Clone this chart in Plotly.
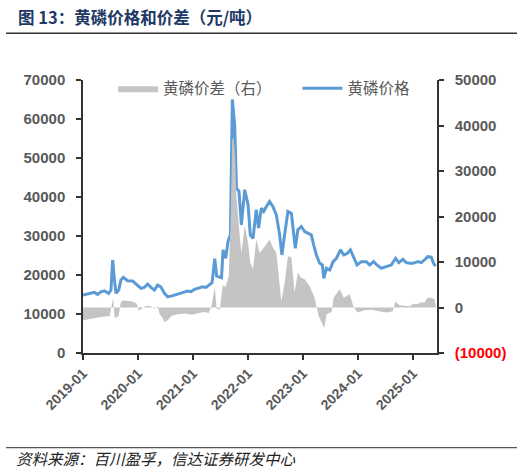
import plotly.graph_objects as go

# ---------------- data ----------------
price_dates = [
    "2019-01-01", "2019-02-12", "2019-03-17", "2019-04-08", "2019-04-30", "2019-05-23",
    "2019-06-20", "2019-07-06", "2019-07-17", "2019-07-28", "2019-08-08", "2019-08-26",
    "2019-09-10", "2019-09-26", "2019-10-24", "2019-11-27", "2019-12-30", "2020-01-21",
    "2020-02-12", "2020-03-05", "2020-03-27", "2020-04-19", "2020-05-11", "2020-06-02",
    "2020-06-25", "2020-07-17", "2020-08-19", "2020-09-21", "2020-10-24", "2020-11-26",
    "2020-12-18", "2021-01-10", "2021-02-01", "2021-03-06", "2021-03-28", "2021-04-20",
    "2021-05-07", "2021-05-25", "2021-06-07", "2021-07-09", "2021-07-19", "2021-08-06",
    "2021-08-21", "2021-09-06", "2021-09-19", "2021-10-04", "2021-10-16", "2021-11-02",
    "2021-11-18", "2021-12-10", "2022-01-01", "2022-01-16", "2022-02-03", "2022-02-25",
    "2022-03-12", "2022-03-30", "2022-04-15", "2022-05-03", "2022-05-24", "2022-06-15",
    "2022-07-08", "2022-07-30", "2022-08-14", "2022-09-01", "2022-09-23", "2022-10-16",
    "2022-10-31", "2022-11-11", "2022-11-28", "2022-12-21", "2023-01-12", "2023-02-03",
    "2023-02-25", "2023-03-13", "2023-03-31", "2023-04-22", "2023-05-10", "2023-05-19",
    "2023-06-06", "2023-06-28", "2023-07-20", "2023-08-11", "2023-09-07", "2023-09-29",
    "2023-10-21", "2023-11-12", "2023-12-04", "2023-12-26", "2024-01-24", "2024-02-26",
    "2024-03-19", "2024-04-14", "2024-05-06", "2024-06-04", "2024-07-07", "2024-08-09",
    "2024-09-07", "2024-09-29", "2024-10-25", "2024-11-17", "2024-12-09", "2024-12-31",
    "2025-02-02", "2025-02-25", "2025-03-18", "2025-04-09", "2025-05-02", "2025-05-17",
    "2025-05-30",
]
price_values = [
    14850, 15280, 15540, 15030, 15700, 15960,
    15280, 16130, 23850, 19140, 15280, 16130,
    18700, 19400, 18530, 18450, 17420, 16570,
    16800, 17680, 16830, 16130, 17420, 16900,
    15280, 14400, 14700, 15100, 15540, 15880,
    15700, 16300, 16570, 16990, 16800, 17600,
    18000, 24200, 19700, 19300, 26430, 24290,
    28560, 30290, 65000, 58600, 42300, 41430,
    32860, 41870, 38010, 30290, 29430, 36720,
    32010, 37150, 36300, 37580, 38860, 37580,
    35430, 30290, 25140, 30290, 36290, 35800,
    31150, 26870, 31580, 32430, 31150, 30730,
    30290, 27720, 25140, 23000, 22570, 19150,
    21720, 21280, 23420, 24290, 26430, 25140,
    25500, 26430, 24290, 22570, 23420, 23420,
    22570, 23420, 22570, 21720, 22140, 22570,
    24290, 23160, 24030, 23160, 23000, 23000,
    23420, 23160, 23850, 24700, 24600, 23000,
    22300,
]

spread_dates = [
    "2019-01-01", "2019-02-14", "2019-04-02", "2019-05-18", "2019-06-27", "2019-07-10",
    "2019-07-20", "2019-07-30", "2019-08-12", "2019-08-26", "2019-09-08", "2019-09-21",
    "2019-10-24", "2019-11-27", "2019-12-23", "2020-01-05", "2020-01-19", "2020-02-14",
    "2020-03-18", "2020-04-21", "2020-05-11", "2020-05-24", "2020-06-06", "2020-06-26",
    "2020-07-16", "2020-07-29", "2020-08-12", "2020-09-21", "2020-11-06", "2020-12-23",
    "2021-02-01", "2021-03-13", "2021-04-15", "2021-05-05", "2021-05-25", "2021-06-07",
    "2021-06-27", "2021-07-17", "2021-08-06", "2021-08-26", "2021-09-08", "2021-09-18",
    "2021-09-28", "2021-10-08", "2021-10-16", "2021-10-25", "2021-11-07", "2021-11-18",
    "2021-12-10", "2022-01-01", "2022-01-16", "2022-02-03", "2022-02-25", "2022-03-19",
    "2022-04-10", "2022-05-03", "2022-05-24", "2022-06-15", "2022-07-08", "2022-07-30",
    "2022-08-10", "2022-09-01", "2022-09-23", "2022-10-16", "2022-11-06", "2022-11-28",
    "2022-12-21", "2023-01-12", "2023-02-14", "2023-03-19", "2023-04-05", "2023-04-15",
    "2023-05-22", "2023-06-07", "2023-07-10", "2023-07-24", "2023-09-02", "2023-09-29",
    "2023-11-07", "2023-12-04", "2023-12-30", "2024-02-14", "2024-04-01", "2024-05-11",
    "2024-06-13", "2024-07-16", "2024-08-18", "2024-09-07", "2024-10-04", "2024-11-06",
    "2024-12-09", "2025-01-05", "2025-02-01", "2025-02-21", "2025-03-18", "2025-04-07",
    "2025-05-04", "2025-05-24", "2025-06-03",
]
spread_values = [
    -2800, -2500, -2300, -2000, -1900, 500,
    2100, -2200, -2200, -1800, 1000, 1560,
    1400, 1300, 900, -600, -500, 300,
    400, -300, 300, -1500, -2000, -3200,
    -2800, -2200, -1800, -1500, -1300, -1600,
    -1300, -1000, -1200, 600, 4500, -300,
    -500, 4900, 4500, 6900, 20000, 37000,
    37000, 33000, 24500, 20000, 15700, 12000,
    17960, 14270, 9860, 8470, 15020, 12000,
    12820, 13920, 15020, 13170, 12000, 5450,
    1400, 5450, 11340, 11000, 3240, 7650,
    6500, 6200, 4720, 2140, 0, -1900,
    -4480, -1500, -1000, 2140, 3990, 2140,
    2890, 0, -1100, -600, -500, -800,
    -1000, -1100, -800, 1300, 500, 400,
    300, 800, 700, 1100, 1100, 2150,
    2150, 1800, 0,
]

left_ticks = [0, 10000, 20000, 30000, 40000, 50000, 60000, 70000]
left_ticktext = ["0", "10000", "20000", "30000", "40000", "50000", "60000", "70000"]
right_ticks = [-10000, 0, 10000, 20000, 30000, 40000, 50000]
right_ticktext = ['<span style="color:#ff0000">(10000)</span>', "0", "10000", "20000",
                  "30000", "40000", "50000"]
x_ticks = ["2019-01-01", "2020-01-01", "2021-01-01", "2022-01-01",
           "2023-01-01", "2024-01-01", "2025-01-01"]
x_ticktext = ["2019-01", "2020-01", "2021-01", "2022-01", "2023-01", "2024-01", "2025-01"]

title_text = "图 13：黄磷价格和价差（元/吨）"
source_text = "资料来源：百川盈孚，信达证券研发中心"
spread_name = "黄磷价差（右）"
price_name = "黄磷价格"

# ---------------- figure ----------------
NUM_FONT = "Liberation Sans, Arial, sans-serif"
CJK_FONT = "Noto Sans CJK SC, sans-serif"
GREY = "#595959"
AXIS = "#333333"

fig = go.Figure()
fig.add_trace(go.Scatter(
    x=spread_dates, y=spread_values, name=spread_name + "\u00a0" * 6, yaxis="y2",
    mode="lines", line=dict(width=0, color="#bfbfbf"),
    fill="tozeroy", fillcolor="#c4c4c4",
))
fig.add_trace(go.Scatter(
    x=price_dates, y=price_values, name=price_name, yaxis="y",
    mode="lines", line=dict(width=3, color="#5b9bd5"),
))

fig.update_layout(
    width=528, height=475,
    margin=dict(l=83, r=91, t=80, b=122),
    paper_bgcolor="white", plot_bgcolor="white",
    showlegend=True,
    legend=dict(
        orientation="h", x=0.085, y=0.968, xanchor="left", yanchor="middle",
        font=dict(family=CJK_FONT, size=15.5, color=GREY),
        bgcolor="rgba(0,0,0,0)", itemwidth=40, tracegroupgap=0,
    ),
    xaxis=dict(
        type="date", range=["2019-01-01", "2025-06-09"],
        tickvals=x_ticks, ticktext=x_ticktext, tickangle=-45,
        showgrid=False, zeroline=False,
        showline=True, linecolor=AXIS, linewidth=1.5,
        ticks="outside", ticklen=5, tickcolor=AXIS, tickwidth=1.5,
        tickfont=dict(family=NUM_FONT, size=14, color=GREY, weight="bold"),
    ),
    yaxis=dict(
        range=[0, 70000], tickvals=left_ticks, ticktext=left_ticktext,
        showgrid=False, zeroline=False,
        showline=True, linecolor=AXIS, linewidth=1.5,
        ticks="outside", ticklen=5, tickcolor=AXIS, tickwidth=1.5,
        ticklabelstandoff=8,
        tickfont=dict(family=NUM_FONT, size=15, color=GREY, weight="bold"),
    ),
    yaxis2=dict(
        range=[-10000, 50000], tickvals=right_ticks, ticktext=right_ticktext,
        overlaying="y", side="right",
        showgrid=False, zeroline=False,
        showline=True, linecolor=AXIS, linewidth=1.5,
        ticks="outside", ticklen=5, tickcolor=AXIS, tickwidth=1.5,
        ticklabelstandoff=8,
        tickfont=dict(family=NUM_FONT, size=15, color=GREY, weight="bold"),
    ),
)

# title, rules and source note
fig.add_annotation(
    text="<b>" + title_text + "</b>", xref="paper", yref="paper",
    x=-0.189, y=1.232, xanchor="left", yanchor="middle", showarrow=False,
    font=dict(family=CJK_FONT, size=16.5, color="#203864"),
)
fig.add_shape(type="line", xref="paper", yref="paper",
              x0=-0.2175, x1=1.226, y0=1.1717, y1=1.1717,
              line=dict(color="#333333", width=1.5))
fig.add_shape(type="line", xref="paper", yref="paper",
              x0=-0.2175, x1=1.226, y0=-0.3467, y1=-0.3467,
              line=dict(color="#555555", width=1.2))
fig.add_annotation(
    text="<i>" + source_text + "</i>", xref="paper", yref="paper",
    x=-0.195, y=-0.385, xanchor="left", yanchor="middle", showarrow=False,
    font=dict(family=CJK_FONT, size=15.5, color="#222222"),
)

fig.write_html("out.html", config={"displayModeBar": False},
               post_script="document.body.style.margin='0';")
